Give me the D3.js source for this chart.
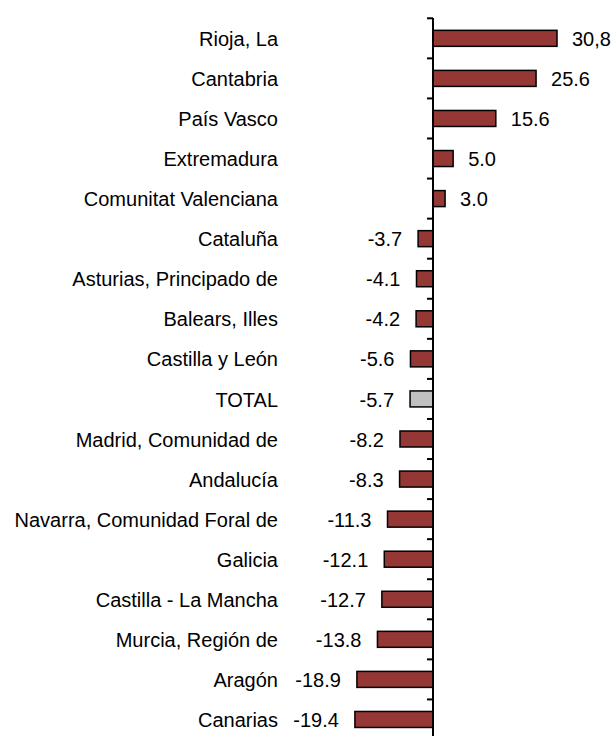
<!DOCTYPE html>
<html>
<head>
<meta charset="utf-8">
<script src="https://cdn.jsdelivr.net/npm/d3@7"></script>
<style>
  body { margin: 0; background: #fff; }
  text { font-family: "Liberation Sans", Arial, sans-serif; font-size: 20px; fill: #000; }
</style>
</head>
<body>
<div id="chart"></div>
<script>
// Regions, top to bottom
const regions = ["Rioja, La", "Cantabria", "País Vasco", "Extremadura", "Comunitat Valenciana",
  "Cataluña", "Asturias, Principado de", "Balears, Illes", "Castilla y León", "TOTAL",
  "Madrid, Comunidad de", "Andalucía", "Navarra, Comunidad Foral de", "Galicia",
  "Castilla - La Mancha", "Murcia, Región de", "Aragón", "Canarias"];
const values = [30.8, 25.6, 15.6, 5.0, 3.0, -3.7, -4.1, -4.2, -5.6, -5.7,
  -8.2, -8.3, -11.3, -12.1, -12.7, -13.8, -18.9, -19.4];
// labels as printed (the first one uses a comma)
const valueLabels = ["30,8", "25.6", "15.6", "5.0", "3.0", "-3.7", "-4.1", "-4.2", "-5.6", "-5.7",
  "-8.2", "-8.3", "-11.3", "-12.1", "-12.7", "-13.8", "-18.9", "-19.4"];

const width = 613, height = 736;

const svg = d3.select("#chart").append("svg")
  .attr("width", width).attr("height", height);

// x: value -> pixel, zero sits on the axis line
const x = d3.scaleLinear().domain([0, 30.8]).range([433, 557]);
const y = d3.scaleBand().domain(regions).range([18.3, 739.5]).paddingInner(0).paddingOuter(0);
const barH = 16;

// bars
svg.selectAll("rect.bar").data(regions).join("rect")
  .attr("class", "bar")
  .attr("x", (d, i) => Math.min(x(0), x(values[i])))
  .attr("y", d => y(d) + y.bandwidth() / 2 - barH / 2)
  .attr("width", (d, i) => Math.abs(x(values[i]) - x(0)))
  .attr("height", barH)
  .attr("fill", d => d === "TOTAL" ? "#c0c0c0" : "#953735")
  .attr("stroke", "#000")
  .attr("stroke-width", 1.5);

// value labels
svg.selectAll("text.val").data(regions).join("text")
  .attr("class", "val")
  .attr("x", (d, i) => values[i] >= 0 ? x(values[i]) + 15 : x(values[i]) - 16)
  .attr("y", d => y(d) + y.bandwidth() / 2)
  .attr("dy", "0.38em")
  .attr("text-anchor", (d, i) => values[i] >= 0 ? "start" : "end")
  .text((d, i) => valueLabels[i]);

// category labels
svg.selectAll("text.cat").data(regions).join("text")
  .attr("class", "cat")
  .attr("x", 278)
  .attr("y", d => y(d) + y.bandwidth() / 2)
  .attr("dy", "0.38em")
  .attr("text-anchor", "end")
  .text(d => d);

// axis line + ticks at band boundaries
svg.append("line")
  .attr("x1", x(0)).attr("x2", x(0))
  .attr("y1", 18).attr("y2", height)
  .attr("stroke", "#000").attr("stroke-width", 2);

svg.selectAll("line.tick").data(regions).join("line")
  .attr("class", "tick")
  .attr("x1", x(0) - 6).attr("x2", x(0))
  .attr("y1", d => y(d)).attr("y2", d => y(d))
  .attr("stroke", "#000").attr("stroke-width", 2);
</script>
</body>
</html>
